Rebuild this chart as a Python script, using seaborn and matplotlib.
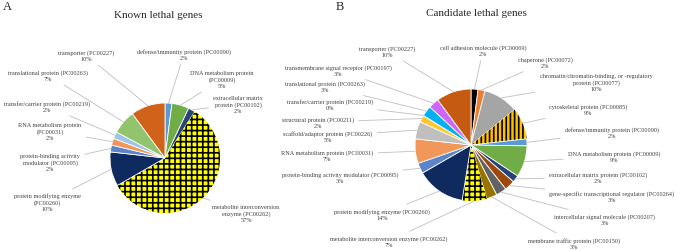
import numpy as np
import matplotlib
matplotlib.use('Agg')
import matplotlib.pyplot as plt
import seaborn as sns

sns.set_style('white')
plt.rcParams['font.family'] = ['Liberation Serif', 'DejaVu Serif']
plt.rcParams['hatch.linewidth'] = 1.2

# ------------------------------------------------------------
# Données : panneau A (gènes létaux connus), sens horaire depuis midi
# ------------------------------------------------------------
known_names = ['defense/immunity protein (PC00090)',
               'DNA metabolism protein\n(PC00009)',
               'extracellular matrix\nprotein (PC00102)',
               'metabolite interconversion\nenzyme (PC00262)',
               'protein modifying enzyme\n(PC00260)',
               'protein-binding activity\nmodulator (PC00095)',
               'RNA metabolism protein\n(PC00031)',
               'transfer/carrier protein (PC00219)',
               'translational protein (PC00263)',
               'transporter (PC00227)']
known_values = [2, 5, 2, 57, 10, 2, 2, 2, 7, 10]
known_colors = ['#5B9BD5', '#70AD47', '#264478', '#FFFF00', '#0E2A5E',
                '#5B84C9', '#F1975A', '#9DC3E6', '#92C46D', '#D0621A']

# ------------------------------------------------------------
# Données : panneau B (gènes létaux candidats)
# ------------------------------------------------------------
cand_names = ['cell adhesion molecule (PC00069)',
              'chaperone (PC00072)',
              'chromatin/chromatin-binding, or -regulatory\nprotein (PC00077)',
              'cytoskeletal protein (PC00085)',
              'defense/immunity protein (PC00090)',
              'DNA metabolism protein (PC00009)',
              'extracellular matrix protein (PC00102)',
              'gene-specific transcriptional regulator (PC00264)',
              'intercellular signal molecule (PC00207)',
              'membrane traffic protein (PC00150)',
              'metabolite interconversion enzyme (PC00262)',
              'protein modifying enzyme (PC00260)',
              'protein-binding activity modulator (PC00095)',
              'RNA metabolism protein (PC00031)',
              'scaffold/adaptor protein (PC00226)',
              'structural protein (PC00211)',
              'transfer/carrier protein (PC00219)',
              'translational protein (PC00263)',
              'transmembrane signal receptor (PC00197)',
              'transporter (PC00227)']
cand_values = [2, 2, 10, 9, 2, 9, 2, 3, 3, 3, 7, 14, 3, 7, 5, 2, 0, 3, 3, 10]
cand_colors = ['#000000', '#ED7D31', '#A5A5A5', '#FFC000', '#5B9BD5',
               '#70AD47', '#264478', '#9E480E', '#636363', '#997300',
               '#FFFF00', '#0E2A5E', '#5B84C9', '#F1975A', '#BFBFBF',
               '#FFC832', '#43682B', '#00B0F0', '#CC66FF', '#C55A11']

# positions des étiquettes (pixels, origine en haut à gauche)
known_pos = [(184, 55), (222, 80), (238, 105), (246, 214), (47, 203),
             (50, 163), (50, 132), (47, 107), (48, 76), (86, 56)]
cand_pos = [(483, 51), (545, 63), (596, 83), (588, 110), (612, 133),
            (614, 157), (598, 178), (612, 197), (605, 220), (574, 244),
            (389, 242), (382, 215), (340, 178), (327, 156), (328, 137),
            (318, 123), (330, 105), (325, 87), (338, 71), (387, 52)]

H = 251
fig = plt.figure(figsize=(6.77, 2.51), dpi=100)
ax = fig.add_axes([0, 0, 1, 1])


def draw_pie(values, colors, names, pos, center, r, hatches):
    c = (center[0], H - center[1])
    wedges, _ = ax.pie(values, colors=colors, startangle=90, counterclock=False,
                       center=c, radius=r,
                       wedgeprops=dict(edgecolor='white', linewidth=0.6))
    # motifs (damier / rayures) en noir
    for i, h in hatches.items():
        wedges[i].set_hatch(h)
        wedges[i].set_edgecolor('black')
        wedges[i].set_linewidth(0)
    for w, n, v, (tx, ty) in zip(wedges, names, values, pos):
        ang = np.deg2rad((w.theta1 + w.theta2) / 2)
        px = c[0] + r * np.cos(ang)
        py = c[1] + r * np.sin(ang)
        ax.annotate(f'{n}\n{v}%', xy=(px, py), xytext=(tx, H - ty),
                    ha='center', va='center', fontsize=4.5, color='#404040',
                    linespacing=1.25,
                    arrowprops=dict(arrowstyle='-', color='#BFBFBF', lw=0.6,
                                    shrinkA=1, shrinkB=0))


draw_pie(known_values, known_colors, known_names, known_pos, (165, 159), 55,
         {3: '+++'})
draw_pie(cand_values, cand_colors, cand_names, cand_pos, (471, 146), 56,
         {10: '+++', 3: '||||'})

ax.set_xlim(0, 677)
ax.set_ylim(0, H)
ax.set_aspect('equal')
ax.axis('off')

ax.text(158, H - 15, 'Known lethal genes', ha='center', va='center', fontsize=8)
ax.text(476, H - 14, 'Candidate lethal genes', ha='center', va='center', fontsize=8)
ax.text(3, H - 7, 'A', ha='left', va='center', fontsize=9)
ax.text(336, H - 7, 'B', ha='left', va='center', fontsize=9)

fig.savefig('out.png', dpi=100)
